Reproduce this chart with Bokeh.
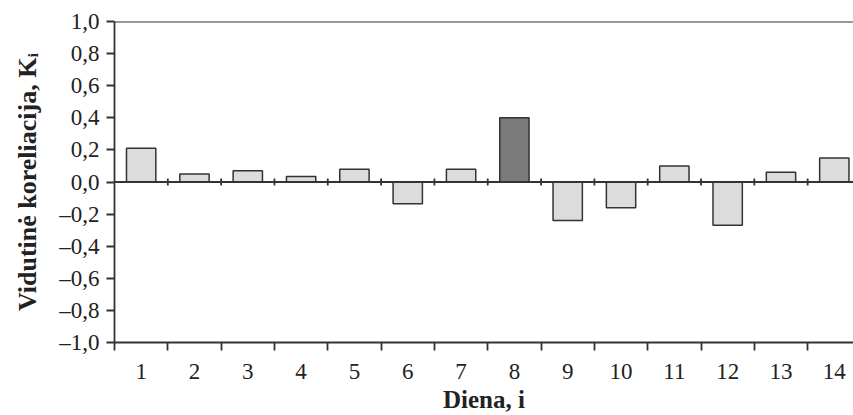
from bokeh.plotting import figure
from bokeh.models import FixedTicker, Range1d, Span, ColumnDataSource
from bokeh.embed import file_html
from bokeh.resources import INLINE

# ---- data ----
days = list(range(1, 15))
corr = [0.21, 0.05, 0.07, 0.035, 0.08, -0.135, 0.08, 0.40, -0.24, -0.16, 0.10, -0.27, 0.06, 0.15]
highlight_day = 8
y_ticks = [-1.0, -0.8, -0.6, -0.4, -0.2, 0.0, 0.2, 0.4, 0.6, 0.8, 1.0]
y_tick_labels = ["–1,0", "–0,8", "–0,6", "–0,4", "–0,2", "0,0", "0,2", "0,4", "0,6", "0,8", "1,0"]
x_tick_labels = [str(d) for d in days]
x_label = "Diena, i"
y_label = "Vidutinė koreliacija, Kᵢ"

FONT = "Liberation Serif"
INK = "#333333"
TXT = "#222222"

colors = ["#7a7a7a" if d == highlight_day else "#dcdcdc" for d in days]
src = ColumnDataSource(dict(day=days, corr=corr, color=colors))

p = figure(width=853, height=415, output_backend="svg", toolbar_location=None,
           x_range=Range1d(0.5, 14.36), y_range=Range1d(-1.0, 1.0),
           min_border_left=114, min_border_right=0, min_border_top=21, min_border_bottom=73)
p.outline_line_color = None
p.xgrid.grid_line_color = None
p.ygrid.grid_line_color = None
p.background_fill_color = "white"

bounds = [d + 0.5 for d in [0] + days]

p.vbar(x="day", top="corr", bottom=0, width=0.55, source=src,
       fill_color="color", line_color=INK, line_width=1.5)

# zero line and top border
p.add_layout(Span(location=0, dimension="width", line_color=INK, line_width=1.8))
p.add_layout(Span(location=1.0, dimension="width", line_color=INK, line_width=1.8))
inner = bounds[1:-1]
p.segment(x0=inner, y0=[-0.022] * len(inner), x1=inner, y1=[0.022] * len(inner),
          line_color=INK, line_width=1.8)

# x axis
xa = p.xaxis[0]
xa.ticker = FixedTicker(ticks=days, minor_ticks=bounds)
xa.major_label_overrides = {d: lab for d, lab in zip(days, x_tick_labels)}
xa.major_tick_line_color = None
xa.major_tick_out = 0
xa.major_tick_in = 0
xa.minor_tick_line_color = INK
xa.minor_tick_line_width = 1.8
xa.minor_tick_out = 8
xa.minor_tick_in = 0
xa.axis_line_color = INK
xa.axis_line_width = 1.8
xa.major_label_standoff = 13
xa.major_label_text_font = FONT
xa.major_label_text_font_size = "23px"
xa.major_label_text_color = TXT
xa.axis_label = x_label
xa.axis_label_text_font = FONT
xa.axis_label_text_font_size = "25px"
xa.axis_label_text_font_style = "bold"
xa.axis_label_text_color = TXT
xa.axis_label_standoff = 4

# y axis
ya = p.yaxis[0]
ya.ticker = FixedTicker(ticks=y_ticks, minor_ticks=[])
ya.major_label_overrides = {t: lab for t, lab in zip(y_ticks, y_tick_labels)}
ya.major_tick_line_color = INK
ya.major_tick_line_width = 1.8
ya.major_tick_out = 8
ya.major_tick_in = 0
ya.axis_line_color = INK
ya.axis_line_width = 1.8
ya.major_label_standoff = 7
ya.major_label_text_font = FONT
ya.major_label_text_font_size = "23px"
ya.major_label_text_color = TXT
ya.axis_label = y_label
ya.axis_label_text_font = FONT
ya.axis_label_text_font_size = "26px"
ya.axis_label_text_font_style = "bold"
ya.axis_label_text_color = TXT
ya.axis_label_standoff = 14

open("out.html", "w").write(file_html(p, INLINE))
